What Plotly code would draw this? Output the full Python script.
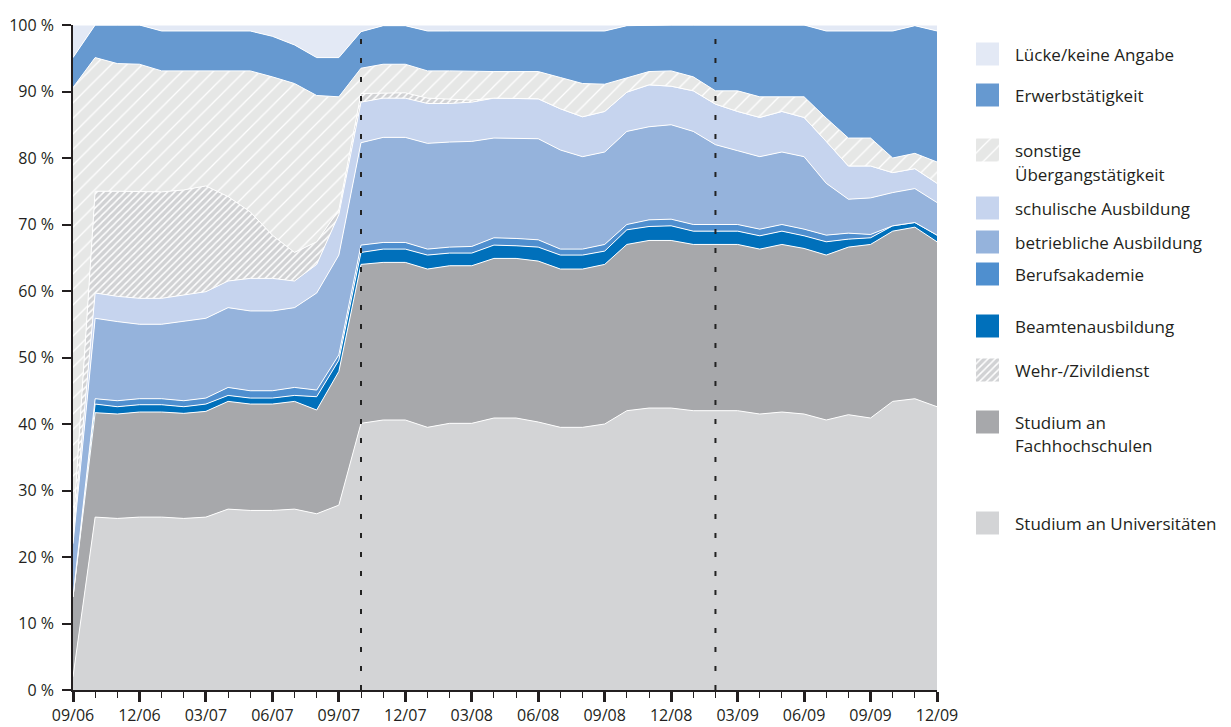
import plotly.graph_objects as go

# { month labels 09/06 .. 12/09
months = []
m, y = 9, 6
for _ in range(40):
    months.append(f"{m:02d}/{y:02d}")
    m += 1
    if m > 12:
        m, y = 1, y + 1
# }

# { shares in percent, one list per status (bottom of stack first)
uni = [2, 26, 25.8, 26, 26, 25.8, 26, 27.2, 27, 27, 27.2, 26.5, 27.8, 40.1, 40.6, 40.6, 39.5, 40.1, 40.1, 40.9,
       40.9, 40.3, 39.5, 39.5, 40, 42, 42.4, 42.4, 42, 42, 42, 41.5, 41.8, 41.5, 40.6, 41.4, 40.9, 43.4, 43.8, 42.6]
fh = [12, 15.7, 15.7, 15.8, 15.8, 15.8, 15.9, 16.2, 16.0, 16.0, 16.2, 15.6, 20.1, 23.9, 23.7, 23.7, 23.8, 23.7, 23.7, 24.0,
      24.0, 24.2, 23.8, 23.8, 24.0, 25.0, 25.2, 25.2, 25.0, 25.0, 25.0, 24.8, 25.2, 24.9, 24.8, 25.2, 26.1, 25.6, 25.8, 24.8]
beamte = [0, 1.3, 1.1, 1.1, 1.1, 1.0, 1.1, 0.9, 0.9, 0.9, 0.9, 2.0, 1.7, 1.8, 2.0, 2.0, 2.1, 1.9, 1.9, 2.0,
          1.9, 2.1, 2.1, 2.1, 2.0, 2.2, 2.1, 2.2, 2.0, 2.0, 2.0, 2.0, 2.0, 1.9, 2.0, 1.2, 1.0, 0.8, 0.7, 1.0]
berufsakad = [0, 0.8, 0.9, 0.9, 0.9, 0.9, 0.9, 1.2, 1.1, 1.1, 1.2, 1.0, 0.8, 1.1, 1.0, 1.0, 0.9, 0.9, 1.0, 1.1,
              1.1, 1.1, 0.9, 0.9, 1.0, 0.8, 1.0, 1.0, 1.0, 1.0, 1.0, 1.0, 1.0, 1.0, 1.0, 0.9, 0.5, 0, 0, 0]
betrieb = [8, 12.1, 11.9, 11.2, 11.2, 11.9, 12.0, 12.0, 12.0, 12.0, 12.0, 14.6, 15.0, 15.4, 15.8, 15.8, 15.9, 15.8, 15.8, 15.0,
           15.1, 15.2, 14.9, 13.9, 13.9, 14.0, 14.0, 14.2, 14.0, 12.0, 11.1, 10.9, 10.9, 10.9, 7.8, 5.1, 5.5, 5.0, 5.1, 4.9]
schulisch = [1, 3.8, 3.8, 3.9, 3.9, 4.0, 4.0, 4.0, 4.9, 4.9, 4.0, 4.3, 6.1, 6.1, 5.9, 5.9, 6.0, 5.8, 5.9, 6.0,
             6.0, 6.0, 6.2, 6.0, 6.1, 5.9, 6.3, 5.8, 6.1, 6.1, 5.9, 5.9, 6.1, 5.9, 6.3, 5.0, 4.8, 3.0, 3.0, 2.9]
wehr = [1, 15.3, 15.8, 16.0, 16.0, 15.8, 15.9, 12.7, 10.0, 6.5, 4.3, 3.4, 0.7, 1.3, 0.8, 0.8, 0.8, 0.7, 0.3, 0,
        0, 0, 0, 0, 0, 0, 0, 0, 0, 0, 0, 0, 0, 0, 0, 0, 0, 0, 0, 0]
sonstige = [66.6, 20.1, 19.2, 19.2, 18.2, 17.9, 17.2, 18.8, 21.2, 23.8, 25.4, 22.0, 17.0, 3.8, 4.3, 4.3, 4.1, 4.2, 4.3, 4.0,
            4.0, 4.1, 4.7, 5.0, 4.1, 2.2, 2.0, 2.3, 2.1, 2.0, 3.1, 3.1, 2.2, 3.1, 3.5, 4.2, 4.2, 2.2, 2.3, 3.2]
erwerb = [4.5, 4.9, 5.8, 5.9, 6.0, 6.0, 6.1, 6.1, 6.0, 6.1, 5.8, 5.7, 5.9, 5.5, 5.8, 5.8, 6.0, 6.0, 6.1, 6.1,
          6.1, 6.1, 7.0, 7.9, 8.0, 7.8, 7.0, 6.9, 7.8, 9.9, 9.9, 10.8, 10.8, 10.8, 13.1, 16.1, 16.1, 19.1, 19.2, 19.7]
luecke = [4.9, 0, 0, 0, 0.9, 0.9, 0.9, 0.9, 0.9, 1.7, 3.0, 4.9, 4.9, 1.0, 0.1, 0.1, 0.9, 0.9, 0.9, 0.9,
          0.9, 0.9, 0.9, 0.9, 0.9, 0.1, 0, 0, 0, 0, 0, 0, 0, 0, 0.9, 0.9, 0.9, 0.9, 0.1, 0.9]
# }

# { markers for the two survey waves
waves = ['10/07', '02/09']
# }

# { stack order, colours, hatch
layers = [
    ('Studium an Universitäten', uni, '#d3d4d6', None),
    ('Studium an Fachhochschulen', fh, '#a7a8ab', None),
    ('Beamtenausbildung', beamte, '#0070bb', None),
    ('Berufsakademie', berufsakad, '#4f8fcf', None),
    ('betriebliche Ausbildung', betrieb, '#95b3dc', None),
    ('schulische Ausbildung', schulisch, '#c6d4ee', None),
    ('Wehr-/Zivildienst', wehr, '#d1d2d4', dict(shape='/', size=5, solidity=0.3)),
    ('sonstige Übergangstätigkeit', sonstige, '#e6e7e6', dict(shape='/', size=11, solidity=0.12)),
    ('Erwerbstätigkeit', erwerb, '#6699d0', None),
    ('Lücke/keine Angabe', luecke, '#e3e9f5', None),
]
# }

# page puts the figure 8px in from the top-left corner
OFF = 8
W, H = 1231 - OFF, 727 - OFF
x = list(range(len(months)))

fig = go.Figure()

for name, vals, col, pat in layers:
    kw = {}
    if pat:
        kw['fillpattern'] = dict(fgcolor='white', bgcolor=col, fillmode='replace', **pat)
    fig.add_trace(go.Scatter(x=x, y=vals, name=name, stackgroup='one', mode='lines',
                             line=dict(color='white', width=1), fillcolor=col,
                             showlegend=False, hoverinfo='skip', **kw))

# { dotted wave lines
for w in waves:
    i = months.index(w)
    fig.add_shape(type='line', xref='x', yref='y', x0=i, x1=i, y0=0, y1=99,
                  line=dict(color='#222', width=2, dash='5px,14px'), layer='above')
# }

# { hand made legend on a pixel axis at the right (screen pixels)
legend_items = [
    ('Lücke/keine Angabe', [54]),
    ('Erwerbstätigkeit', [95]),
    ('sonstige Übergangstätigkeit', [150, 174], ['sonstige', 'Übergangstätigkeit']),
    ('schulische Ausbildung', [208]),
    ('betriebliche Ausbildung', [242]),
    ('Berufsakademie', [274]),
    ('Beamtenausbildung', [326]),
    ('Wehr-/Zivildienst', [370]),
    ('Studium an Fachhochschulen', [422, 445], ['Studium an', 'Fachhochschulen']),
    ('Studium an Universitäten', [523]),
]
style = {name: (col, pat) for name, vals, col, pat in layers}
for item in legend_items:
    name, ys = item[0], item[1]
    lines = item[2] if len(item) > 2 else [name]
    col, pat = style[name]
    top = ys[0] - 11.5
    kw = {}
    if pat:
        kw['fillpattern'] = dict(fgcolor='white', bgcolor=col, fillmode='replace', **pat)
    fig.add_trace(go.Scatter(x=[976, 999, 999, 976, 976], y=[top, top, top + 23, top + 23, top],
                             xaxis='x2', yaxis='y2', mode='lines', fill='toself', fillcolor=col,
                             line=dict(width=0, color=col), showlegend=False, hoverinfo='skip', **kw))
    for txt, yy in zip(lines, ys):
        fig.add_annotation(x=1013, y=yy, xref='x2', yref='y2', text=txt, showarrow=False,
                           xanchor='left', yanchor='middle', font=dict(size=17, color='#231f20'))
# }

fig.update_layout(
    width=W, height=H,
    margin=dict(l=0, r=0, t=0, b=0, autoexpand=False),
    paper_bgcolor='white', plot_bgcolor='rgba(0,0,0,0)',
    font=dict(family='Open Sans, sans-serif', size=17, color='#231f20'),
    showlegend=False,
    xaxis=dict(domain=[(73 - OFF) / W, (937 - OFF) / W], range=[0, len(months) - 1],
               showgrid=False, zeroline=False, automargin=False,
               showline=True, linecolor='#231f20', linewidth=1.5,
               tickmode='array', tickvals=x[::3], ticktext=months[::3], tickfont=dict(size=16),
               ticks='outside', ticklen=10, tickwidth=2.5, tickcolor='#231f20', ticklabelstandoff=0,
               minor=dict(dtick=1, tick0=0, ticks='outside', ticklen=6, tickwidth=1.3, tickcolor='#231f20')),
    yaxis=dict(domain=[(727 - 690) / H, (727 - 25) / H], range=[0, 100],
               showgrid=False, zeroline=False, automargin=False,
               showline=True, linecolor='#231f20', linewidth=1.5, dtick=10, ticksuffix=' %',
               tickfont=dict(size=16),
               ticks='outside', ticklen=9, tickwidth=1.5, tickcolor='#231f20', ticklabelstandoff=5),
    xaxis2=dict(domain=[(950 - OFF) / W, 1], range=[950, 1231], visible=False, anchor='y2',
                fixedrange=True, automargin=False),
    yaxis2=dict(domain=[0, 1], range=[727, OFF], visible=False, anchor='x2',
                fixedrange=True, automargin=False),
)

fig.write_html("out.html")
